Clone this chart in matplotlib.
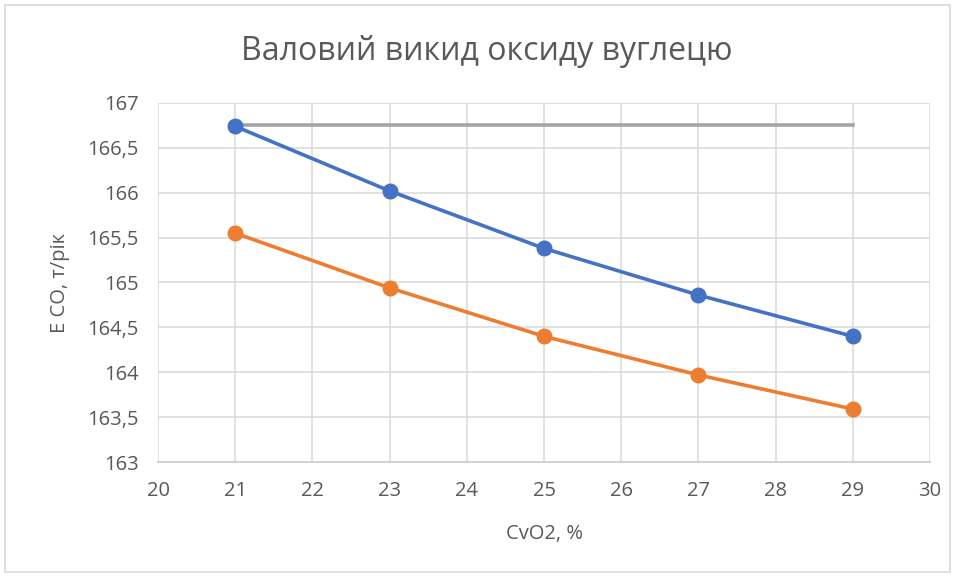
import matplotlib
matplotlib.use("Agg")
import matplotlib.pyplot as plt
from matplotlib.patches import Rectangle

x_vals = [21, 23, 25, 27, 29]
series_blue = [166.74, 166.02, 165.38, 164.86, 164.40]
series_orange = [165.55, 164.94, 164.40, 163.97, 163.59]
series_gray = [166.75, 166.75, 166.75, 166.75, 166.75]
x_ticks = list(range(20, 31))
y_ticks = [163, 163.5, 164, 164.5, 165, 165.5, 166, 166.5, 167]

title = "Валовий викид оксиду вуглецю"
xlabel = "CvO2, %"
ylabel = "E CO, т/рік"

plt.rcParams['font.family'] = ['Open Sans', 'DejaVu Sans']
txt = '#595959'
grid = '#d9d9d9'

fig = plt.figure(figsize=(9.59, 5.77), dpi=100)
fig.patches.append(Rectangle((0.005, 0.008), 0.986, 0.984, transform=fig.transFigure,
                             fill=False, edgecolor='#d9d9d9', linewidth=1.2))
ax = fig.add_axes([0.1648, 0.1993, 0.805, 0.6222])

ax.plot(x_vals, series_gray, color='#A5A5A5', lw=2.6, zorder=3)
ax.plot(x_vals, series_blue, color='#4472C4', lw=2.6, marker='o', ms=10.5, zorder=4)
ax.plot(x_vals, series_orange, color='#ED7D31', lw=2.6, marker='o', ms=10.5, zorder=4)

ax.set_xlim(20, 30)
ax.set_ylim(163, 167)
ax.set_xticks(x_ticks)
ax.set_yticks(y_ticks)
ax.set_yticklabels([f"{v:g}".replace('.', ',') for v in y_ticks])
ax.grid(True, color=grid, lw=1.1)
ax.set_axisbelow(True)
for s in ['top', 'right', 'left']:
    ax.spines[s].set_visible(False)
ax.spines['bottom'].set_color('#d0d0d0')
ax.spines['bottom'].set_linewidth(1.3)
ax.tick_params(axis='x', length=0, colors=txt, labelsize=14.5, pad=14)
ax.tick_params(axis='y', length=0, colors=txt, labelsize=14.5, pad=14)

ax.set_xlabel(xlabel, color=txt, fontsize=14.5, labelpad=16)
ax.set_ylabel(ylabel, color=txt, fontsize=14.5, labelpad=12)
fig.text(0.508, 0.91, title, ha='center', va='center', color=txt, fontsize=23)

fig.savefig("out.png", dpi=100)
